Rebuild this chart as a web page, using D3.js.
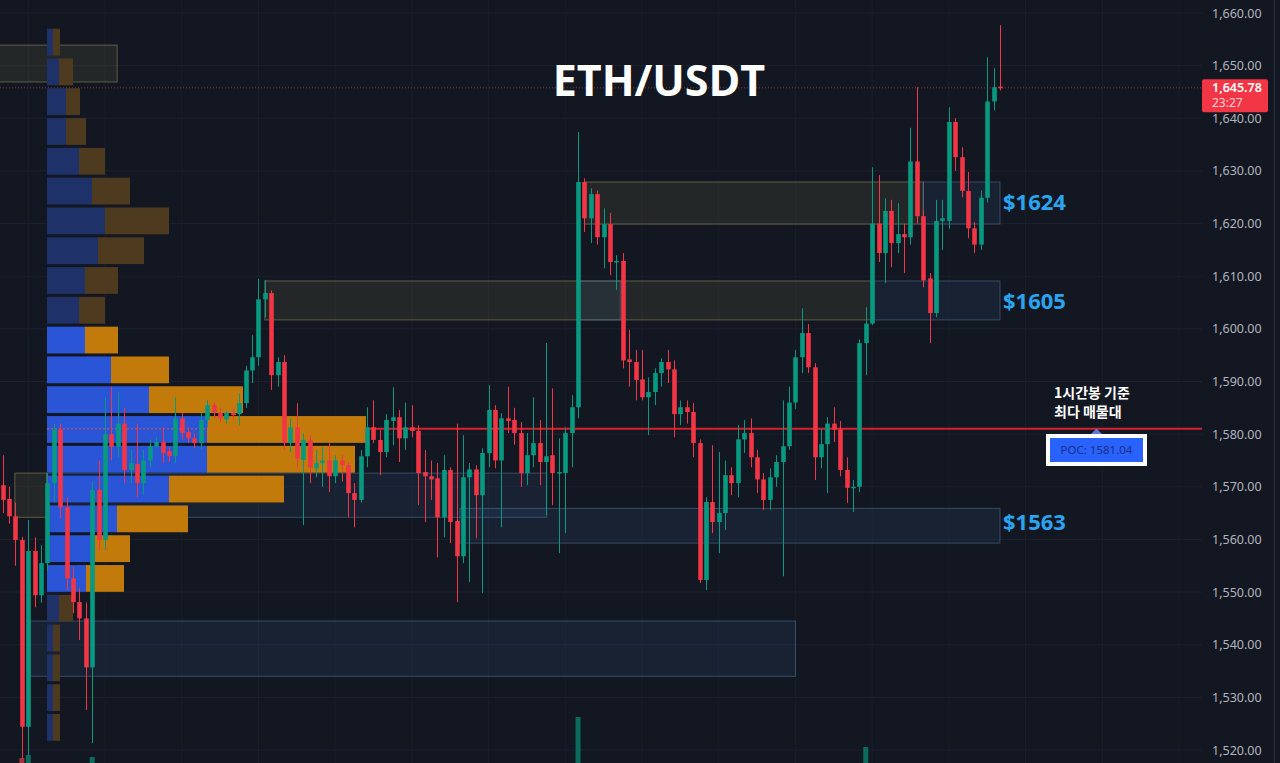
<!DOCTYPE html>
<html><head><meta charset="utf-8">
<script src="https://cdn.jsdelivr.net/npm/d3@7"></script>
<style>html,body{margin:0;padding:0;background:#131722;overflow:hidden}svg{display:block}</style>
</head><body>
<svg id="c" width="1280" height="763"></svg>
<script>
// ---- DATA ----
const opens  = [1570.3,1567.7,1564.4,1559.9,1524.4,1557.8,1549.4,1555.5,1570.7,1580.9,1566.1,1552.6,1548.1,1545,1535.7,1569.4,1559.9,1580,1577.6,1582,1573.2,1574.3,1570.7,1575,1577.7,1578.5,1576.8,1575.8,1583,1580.4,1579.2,1578.3,1582.7,1585.5,1584,1582.8,1584,1583.8,1585.9,1592.1,1594.6,1605.6,1606.8,1591.2,1593.7,1578.3,1581.3,1575.1,1578.9,1573.5,1574.5,1575,1572,1575,1574.1,1568.8,1567.5,1575.8,1581.3,1578.9,1576.6,1582.5,1583.2,1579.2,1581.3,1580.6,1572.8,1572,1571.6,1564.2,1573.2,1563.5,1556.8,1571.8,1573.3,1568.4,1576.4,1584.6,1575,1583,1582.7,1580.2,1572.6,1576,1578.3,1574.7,1576,1572.6,1572.6,1580.2,1585.1,1627.9,1621,1625.6,1617.4,1619.9,1612.7,1612.9,1594.2,1593.7,1590.4,1587,1588,1591.6,1593.7,1592.3,1583.8,1585.1,1584.2,1578.3,1552.3,1567.1,1563.3,1565,1572.2,1570.7,1579,1580.2,1575.6,1571.4,1567.5,1571.8,1574.7,1577.7,1586,1594.6,1599.2,1592.7,1575.6,1578.1,1582,1580.9,1573.2,1569.8,1570,1597.3,1601,1620,1614.4,1622.4,1616.3,1618,1617.4,1631.8,1621.4,1609.6,1603,1620.5,1620.5,1639.3,1632.6,1626.2,1619.1,1616,1624.9,1643.2,1646];
const highs  = [1576,1570,1567,1560.5,1563.7,1560.4,1558.9,1572.6,1582,1582,1568,1554.8,1550.8,1548,1571,1575,1587,1589,1588,1585,1577,1582,1577,1579,1579.4,1581.3,1577.5,1587,1584,1581.3,1580.2,1584,1586.5,1586,1585,1584.5,1585,1587.8,1593,1598.8,1609.5,1609.3,1607.3,1594.6,1595,1583,1585.9,1580.2,1579.8,1577,1577.5,1578.3,1576,1576,1574.7,1570.7,1577,1585.1,1586.4,1580.8,1583.8,1588.9,1584.6,1586,1585.5,1581.7,1577,1575,1574.5,1576,1573.7,1582,1579.8,1574.5,1574.1,1577.3,1589.3,1585.5,1584,1589,1585,1582.3,1580.2,1587,1582.7,1597.3,1588.7,1579.2,1581.3,1587.4,1637.4,1628.6,1626.7,1626.3,1622.9,1622,1614,1614.4,1599.8,1596,1596,1590.8,1592.5,1594.4,1596,1594,1586.4,1586.4,1585.9,1579,1568,1577.9,1576.6,1575,1573.7,1581.7,1582.7,1583,1577,1572.6,1573.5,1576,1586.4,1589,1596,1603.9,1600.9,1593.5,1581,1583.2,1585.1,1582.5,1575.6,1571.3,1598,1604.1,1630.7,1629.2,1624.8,1624.5,1623.9,1620,1638.2,1645.9,1622.5,1610.6,1624.5,1624.5,1642.1,1640,1634.5,1629.8,1620.3,1626.3,1651.6,1649.5,1657.7];
const lows   = [1565,1563,1555,1518,1518,1547.1,1548,1554,1567,1564,1550.4,1546,1540.9,1527.6,1521.3,1558,1558,1575,1575.6,1570.7,1570.7,1568,1568.4,1573.7,1577.3,1574.5,1574.7,1574.5,1578.9,1578.3,1577.3,1577,1581.3,1583,1582.3,1582,1582.8,1581.7,1585,1589.7,1593,1602.2,1588.4,1589,1577,1576.6,1573.7,1562.7,1570.7,1571.8,1570,1569,1570.7,1571,1564.2,1562.3,1567,1573.7,1578.3,1572.2,1575.6,1577.9,1574.7,1577,1579.4,1566.5,1563.3,1567.5,1556.6,1560.4,1559.3,1548.1,1555.5,1551.9,1560.2,1549.8,1573.7,1573.5,1562.3,1580.2,1578,1570,1570.3,1573.7,1570.3,1564.6,1566.5,1557.4,1561.2,1573.7,1583,1618.4,1616.3,1616,1611.5,1610.2,1607.4,1592.5,1589,1586.4,1586.4,1579.8,1585.5,1589,1589.7,1579.4,1581.7,1582,1575.6,1551.7,1550.4,1561.2,1557.4,1561.8,1568.4,1568,1576.4,1573.7,1568.8,1565.6,1565.6,1570,1553,1577,1584.8,1591.6,1591.6,1571.3,1573.5,1568.8,1578.5,1572,1566.9,1565.2,1569,1591.2,1600.7,1612.7,1608.7,1611.7,1614.4,1610.6,1616,1620,1607.9,1597.3,1602.2,1615,1619,1630,1625,1617.2,1614.4,1615,1624,1641.5,1645.3];
const closes = [1567.5,1564.4,1559.9,1524.4,1557.8,1549.4,1555.5,1570.7,1580.9,1566.1,1552.6,1548.1,1545,1535.7,1569.4,1559.9,1580,1577.6,1582,1573.2,1574.5,1570.7,1575,1577.7,1578.5,1576.4,1575.8,1583,1580.2,1579.2,1578.3,1582.7,1585.5,1584.2,1583,1584,1583.6,1585.9,1592.1,1594.6,1605.6,1606.8,1591.2,1593.7,1578.3,1581.3,1575.4,1578.9,1573.7,1574.5,1575,1572,1575,1574.1,1568.8,1567.5,1575.8,1581.3,1578.9,1576.6,1582.7,1583.2,1579.2,1581.3,1580.6,1572.6,1572,1571.4,1564.2,1573.2,1563.3,1556.8,1571.8,1573.3,1568.4,1576.4,1584.6,1575,1583,1582.5,1580.2,1572.6,1576,1578.3,1574.7,1575.8,1572.6,1572.8,1580.2,1585.1,1627.9,1621,1625.6,1617.4,1619.9,1612.7,1612.9,1594,1593.7,1590.3,1587,1588,1591.6,1593.7,1592.3,1583.8,1585.1,1584.2,1578.3,1552.3,1567.1,1563.3,1565,1572.2,1570.7,1579,1580.2,1575.6,1571.4,1567.5,1571.8,1574.7,1577.7,1586,1594.6,1599.2,1592.7,1575.6,1578.1,1582,1580.9,1573.2,1569.8,1570,1597.3,1601,1620,1614.4,1622.4,1616.3,1618,1617.4,1631.8,1621.4,1609.2,1603,1620.5,1621,1639.3,1632.6,1626.2,1619.1,1616,1624.9,1643.2,1645.9,1645.78];

// visible volume bars (others fall below the visible area)
const volIndex = [3, 4, 14, 90, 135];
const volValue = [84, 90, 86, 166, 106];

// volume profile (top row first)
const profileTop = 1657.3, profileStep = 5.66;
const profileUp   = [6,12,19,19,32,45,58,51,38,32,38,64,102,160,160,122,70,48,39,12,6,6,6,6];
const profileDown = [7,14,14,20,26,38,64,46,33,26,33,58,94,159,148,115,71,35,38,14,7,7,7,7];
const valueAreaRows = [10, 18];

const poc = 1581.04;
const lastPrice = 1645.78;
const priceTicks = [1520,1530,1540,1550,1560,1570,1580,1590,1600,1610,1620,1630,1640,1650,1660];

// zones: [startIndex, endIndex, lowPrice, highPrice, kind]
const zoneStart = [-1, 41, 90, 136.1, 91, 144, 1.9, 6.9, 71.5, 4.3];
const zoneEnd   = [17.9, 136.1, 96.6, 156, 144, 156, 6.9, 85.1, 156, 124];
const zoneLow   = [1646.9, 1601.7, 1601.7, 1601.7, 1619.9, 1619.9, 1564.2, 1564.2, 1559.3, 1534.0];
const zoneHigh  = [1653.9, 1609.1, 1609.1, 1609.1, 1627.9, 1627.9, 1572.6, 1572.6, 1565.9, 1544.5];
const zoneKind  = ["olive","olive","blue","blue","olive","blue","olive","blue","blue","blue"];

const levelLabels = ["$1624", "$1605", "$1563"];
const levelPrices = [1624, 1605.2, 1563.3];

// ---- CHART ----
const svg = d3.select("#c");
const W = 1280, H = 763, plotRight = 1202;
const x = d3.scaleLinear().domain([0, 156]).range([2.7, 1000]);
const y = d3.scaleLinear().domain([1520, 1660]).range([750, 13]);
const up = "#089981", dn = "#f23645";

svg.append("rect").attr("width", W).attr("height", H).attr("fill", "#131722");

// grid
const g = svg.append("g");
g.selectAll(".hg").data(priceTicks).join("line")
  .attr("x1", 0).attr("x2", plotRight).attr("y1", d => y(d)).attr("y2", d => y(d))
  .attr("stroke", "#1d2130").attr("stroke-width", 1);
const vIdx = d3.range(4, 190, 12);
g.selectAll(".vg").data(vIdx).join("line")
  .attr("x1", d => x(d)).attr("x2", d => x(d)).attr("y1", 0).attr("y2", H)
  .attr("stroke", "#1b1f2c").attr("stroke-width", 1);

// zones
const zones = d3.range(zoneStart.length).map(i => ({s: zoneStart[i], e: zoneEnd[i], lo: zoneLow[i], hi: zoneHigh[i], k: zoneKind[i]}));
svg.append("g").selectAll("rect").data(zones).join("rect")
  .attr("x", d => x(d.s)).attr("width", d => x(d.e) - x(d.s))
  .attr("y", d => y(d.hi)).attr("height", d => y(d.lo) - y(d.hi))
  .attr("fill", d => d.k === "olive" ? "rgba(130,125,70,0.16)" : "rgba(60,110,170,0.13)")
  .attr("stroke", d => d.k === "olive" ? "rgba(150,145,95,0.55)" : "rgba(95,135,170,0.45)")
  .attr("stroke-width", 1);

// volume profile
const vp = d3.scaleLinear().domain([0, 100]).range([0, 100]);
const px0 = 47;
const rows = profileUp.map((u, i) => ({u, d: profileDown[i], i,
  top: profileTop - i * profileStep, bot: profileTop - (i + 1) * profileStep,
  va: i >= valueAreaRows[0] && i <= valueAreaRows[1]}));
const pg = svg.append("g");
pg.selectAll(".pu").data(rows).join("rect")
  .attr("x", px0).attr("width", d => vp(d.u))
  .attr("y", d => y(d.top) + 1.5).attr("height", d => y(d.bot) - y(d.top) - 3)
  .attr("fill", d => d.va ? "#2a55d6" : "#1e3168");
pg.selectAll(".pd").data(rows).join("rect")
  .attr("x", d => px0 + vp(d.u)).attr("width", d => vp(d.d))
  .attr("y", d => y(d.top) + 1.5).attr("height", d => y(d.bot) - y(d.top) - 3)
  .attr("fill", d => d.va ? "#c27a0b" : "#4e3a1f");

// POC lines
svg.append("line").attr("x1", px0).attr("x2", 366).attr("y1", y(poc)).attr("y2", y(poc))
  .attr("stroke", "#ff5a3c").attr("stroke-width", 1.5).attr("opacity", 0.55).attr("stroke-dasharray", "2,2");
svg.append("line").attr("x1", 366).attr("x2", plotRight).attr("y1", y(poc)).attr("y2", y(poc))
  .attr("stroke", "#d9202b").attr("stroke-width", 2);

// last price dotted line
svg.append("line").attr("x1", 0).attr("x2", plotRight).attr("y1", y(lastPrice)).attr("y2", y(lastPrice))
  .attr("stroke", "#a0473f").attr("stroke-width", 1).attr("stroke-dasharray", "1,2").attr("opacity", 0.8);

// candles
const candles = opens.map((o, i) => ({i, o, h: highs[i], l: lows[i], c: closes[i]}));
const cg = svg.append("g");
cg.selectAll(".w").data(candles).join("line")
  .attr("x1", d => Math.round(x(d.i)) + 0.5).attr("x2", d => Math.round(x(d.i)) + 0.5)
  .attr("y1", d => y(d.h)).attr("y2", d => y(d.l))
  .attr("stroke", d => d.c >= d.o ? up : dn).attr("stroke-width", 1);
cg.selectAll(".b").data(candles).join("rect")
  .attr("x", d => Math.round(x(d.i)) + 0.5 - 2.3).attr("width", 4.6)
  .attr("y", d => y(Math.max(d.o, d.c)))
  .attr("height", d => Math.max(1.5, Math.abs(y(d.o) - y(d.c))))
  .attr("fill", d => d.c >= d.o ? up : dn);

// volume bars
const vy = d3.scaleLinear().domain([0, 200]).range([800, 700]);
svg.append("g").selectAll("rect").data(volIndex.map((k, j) => ({k, v: volValue[j]}))).join("rect")
  .attr("x", d => x(d.k) - 2.5).attr("width", 5)
  .attr("y", d => vy(d.v)).attr("height", d => 800 - vy(d.v))
  .attr("fill", d => closes[d.k] >= opens[d.k] ? "#0b6b5c" : "#a3323b");

// title
svg.append("text").attr("x", 659).attr("y", 96).attr("text-anchor", "middle")
  .attr("fill", "#ffffff").attr("font-family", "'Open Sans', 'Noto Sans', sans-serif")
  .attr("font-weight", 700).attr("font-size", 43).text("ETH/USDT");

// level labels
svg.append("g").selectAll("text").data(levelLabels).join("text")
  .attr("x", 1003).attr("y", (d, i) => y(levelPrices[i])).attr("dy", "0.36em")
  .attr("fill", "#2ba4f0").attr("font-family", "'Open Sans', 'Noto Sans', sans-serif")
  .attr("font-weight", 700).attr("font-size", 22).text(d => d);

// korean annotation
const kt = svg.append("text").attr("fill", "#ffffff")
  .attr("font-family", "'Noto Sans CJK KR', sans-serif").attr("font-weight", 700).attr("font-size", 14);
kt.append("tspan").attr("x", 1054).attr("y", 398).text("1시간봉 기준");
kt.append("tspan").attr("x", 1054).attr("y", 417).text("최다 매물대");

// POC label
svg.append("path").attr("d", "M1091,434 L1096.5,428.5 L1102,434 Z").attr("fill", "#5c7ad6");
svg.append("rect").attr("x", 1046).attr("y", 434).attr("width", 101).attr("height", 32).attr("fill", "#ffffff");
svg.append("rect").attr("x", 1050).attr("y", 438).attr("width", 93).attr("height", 24).attr("fill", "#2962ff");
svg.append("text").attr("x", 1096.5).attr("y", 450).attr("dy", "0.35em").attr("text-anchor", "middle")
  .attr("fill", "#1b2f86").attr("font-family", "'Noto Sans', sans-serif").attr("font-size", 11.5)
  .text("POC: " + d3.format(".2f")(poc));

// price axis
svg.append("rect").attr("x", plotRight).attr("y", 0).attr("width", W - plotRight).attr("height", H).attr("fill", "#131722");
svg.append("line").attr("x1", 1274.5).attr("x2", 1274.5).attr("y1", 0).attr("y2", H).attr("stroke", "#2a2e39");
const ax = svg.append("g").attr("transform", "translate(1209,0)")
  .call(d3.axisRight(y).tickValues(priceTicks).tickFormat(d3.format(",.2f")).tickSize(0).tickPadding(3));
ax.select(".domain").remove();
ax.selectAll("text").attr("fill", "#b2b5be").attr("font-family", "'Noto Sans', sans-serif").attr("font-size", 12.5);

// last price tag
const ly = y(lastPrice);
svg.append("rect").attr("x", 1202).attr("y", ly - 8.5).attr("width", 66).attr("height", 33).attr("rx", 2).attr("fill", "#f23645");
svg.append("text").attr("x", 1212).attr("y", ly).attr("dy", "0.36em").attr("fill", "#ffffff")
  .attr("font-family", "'Noto Sans', sans-serif").attr("font-size", 12.5).attr("font-weight", 600)
  .text(d3.format(",.2f")(lastPrice));
svg.append("text").attr("x", 1212).attr("y", ly + 15).attr("dy", "0.36em").attr("fill", "#ffd3d7")
  .attr("font-family", "'Noto Sans', sans-serif").attr("font-size", 12).text("23:27");
</script>
</body></html>
